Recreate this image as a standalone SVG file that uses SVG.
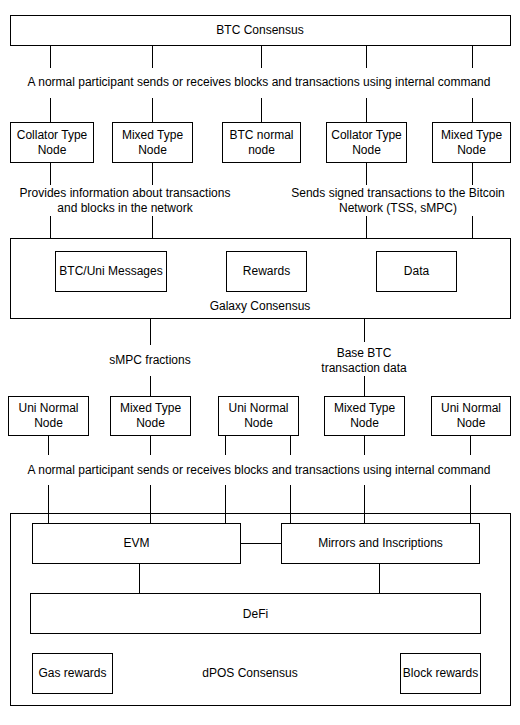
<svg xmlns="http://www.w3.org/2000/svg" width="520" height="725" viewBox="0 0 520 725">
<style>
rect{fill:#fff;stroke:#000;stroke-width:1}
line{stroke:#000;stroke-width:1}
text{font-family:"Liberation Sans",Arial,sans-serif;font-size:12px;fill:#000;text-anchor:middle}
</style>
<rect x="0" y="0" width="520" height="725" style="stroke:none"/>
<g id="btc-consensus"><rect x="10.5" y="15.5" width="500" height="30"/><text x="260" y="34">BTC Consensus</text></g>
<g id="galaxy-consensus"><rect x="10.5" y="238.5" width="500" height="80"/><text x="260" y="310">Galaxy Consensus</text></g>
<g id="dpos-consensus"><rect x="10.5" y="513.5" width="500" height="192"/><text x="250" y="677">dPOS Consensus</text></g>
<g id="connectors">
<line x1="50.5" y1="45" x2="50.5" y2="68"/><line x1="50.5" y1="98" x2="50.5" y2="122"/>
<line x1="152.5" y1="45" x2="152.5" y2="68"/><line x1="152.5" y1="98" x2="152.5" y2="122"/>
<line x1="261.5" y1="45" x2="261.5" y2="68"/><line x1="261.5" y1="98" x2="261.5" y2="122"/>
<line x1="366.5" y1="45" x2="366.5" y2="68"/><line x1="366.5" y1="98" x2="366.5" y2="122"/>
<line x1="472.5" y1="45" x2="472.5" y2="68"/><line x1="472.5" y1="98" x2="472.5" y2="122"/>
<text x="259" y="86">A normal participant sends or receives blocks and transactions using internal command</text>
<line x1="50.5" y1="162" x2="50.5" y2="185"/><line x1="50.5" y1="216" x2="50.5" y2="238"/>
<line x1="152.5" y1="162" x2="152.5" y2="185"/><line x1="152.5" y1="216" x2="152.5" y2="238"/>
<text x="125" y="197">Provides information about transactions</text><text x="125" y="212">and blocks in the network</text>
<line x1="366.5" y1="162" x2="366.5" y2="185"/><line x1="366.5" y1="216" x2="366.5" y2="238"/>
<line x1="472.5" y1="162" x2="472.5" y2="185"/><line x1="472.5" y1="216" x2="472.5" y2="238"/>
<text x="398" y="197">Sends signed transactions to the Bitcoin</text><text x="398" y="212">Network (TSS, sMPC)</text>
<line x1="150.5" y1="318" x2="150.5" y2="345"/><line x1="150.5" y1="376" x2="150.5" y2="396"/>
<text x="150" y="364">sMPC fractions</text>
<line x1="364.5" y1="318" x2="364.5" y2="342"/><line x1="364.5" y1="376" x2="364.5" y2="396"/>
<text x="364" y="357">Base BTC</text><text x="364" y="372">transaction data</text>
<line x1="48.5" y1="435" x2="48.5" y2="455"/><line x1="48.5" y1="485" x2="48.5" y2="523"/>
<line x1="150.5" y1="435" x2="150.5" y2="455"/><line x1="150.5" y1="485" x2="150.5" y2="523"/>
<line x1="225.5" y1="435" x2="225.5" y2="455"/><line x1="225.5" y1="485" x2="225.5" y2="523"/>
<line x1="290.5" y1="435" x2="290.5" y2="455"/><line x1="290.5" y1="485" x2="290.5" y2="523"/>
<line x1="364.5" y1="435" x2="364.5" y2="455"/><line x1="364.5" y1="485" x2="364.5" y2="523"/>
<line x1="470.5" y1="435" x2="470.5" y2="455"/><line x1="470.5" y1="485" x2="470.5" y2="523"/>
<text x="259" y="474">A normal participant sends or receives blocks and transactions using internal command</text>
<line x1="240" y1="543.5" x2="281" y2="543.5"/>
<line x1="139.5" y1="563" x2="139.5" y2="593"/>
<line x1="379.5" y1="563" x2="379.5" y2="593"/>
</g>
<g id="collator-1"><rect x="10.5" y="122.5" width="83" height="40"/><text x="52" y="139">Collator Type</text><text x="52" y="154">Node</text></g>
<g id="mixed-1"><rect x="112.5" y="122.5" width="80" height="40"/><text x="152.5" y="139">Mixed Type</text><text x="152.5" y="154">Node</text></g>
<g id="btc-normal"><rect x="222.5" y="122.5" width="78" height="40"/><text x="261.5" y="139">BTC normal</text><text x="261.5" y="154">node</text></g>
<g id="collator-2"><rect x="326.5" y="122.5" width="80" height="40"/><text x="366.5" y="139">Collator Type</text><text x="366.5" y="154">Node</text></g>
<g id="mixed-2"><rect x="432.5" y="122.5" width="78" height="40"/><text x="471.5" y="139">Mixed Type</text><text x="471.5" y="154">Node</text></g>
<g id="btc-uni-messages"><rect x="55.5" y="251.5" width="111" height="40"/><text x="111" y="275">BTC/Uni Messages</text></g>
<g id="rewards"><rect x="226.5" y="251.5" width="80" height="40"/><text x="266.5" y="275">Rewards</text></g>
<g id="data"><rect x="376.5" y="251.5" width="80" height="40"/><text x="416.5" y="275">Data</text></g>
<g id="uni-1"><rect x="8.5" y="396.5" width="80" height="39"/><text x="48.5" y="412">Uni Normal</text><text x="48.5" y="427">Node</text></g>
<g id="mixed-3"><rect x="110.5" y="396.5" width="80" height="39"/><text x="150.5" y="412">Mixed Type</text><text x="150.5" y="427">Node</text></g>
<g id="uni-2"><rect x="218.5" y="396.5" width="80" height="39"/><text x="258.5" y="412">Uni Normal</text><text x="258.5" y="427">Node</text></g>
<g id="mixed-4"><rect x="324.5" y="396.5" width="80" height="39"/><text x="364.5" y="412">Mixed Type</text><text x="364.5" y="427">Node</text></g>
<g id="uni-3"><rect x="431.5" y="396.5" width="79" height="39"/><text x="471" y="412">Uni Normal</text><text x="471" y="427">Node</text></g>
<g id="evm"><rect x="32.5" y="523.5" width="208" height="40"/><text x="136.5" y="547">EVM</text></g>
<g id="mirrors"><rect x="281.5" y="523.5" width="198" height="40"/><text x="380.5" y="547">Mirrors and Inscriptions</text></g>
<g id="defi"><rect x="30.5" y="593.5" width="450" height="40"/><text x="255.5" y="618">DeFi</text></g>
<g id="gas-rewards"><rect x="32.5" y="653.5" width="80" height="40"/><text x="72.5" y="677">Gas rewards</text></g>
<g id="block-rewards"><rect x="400.5" y="653.5" width="80" height="40"/><text x="440.5" y="677">Block rewards</text></g>
</svg>
